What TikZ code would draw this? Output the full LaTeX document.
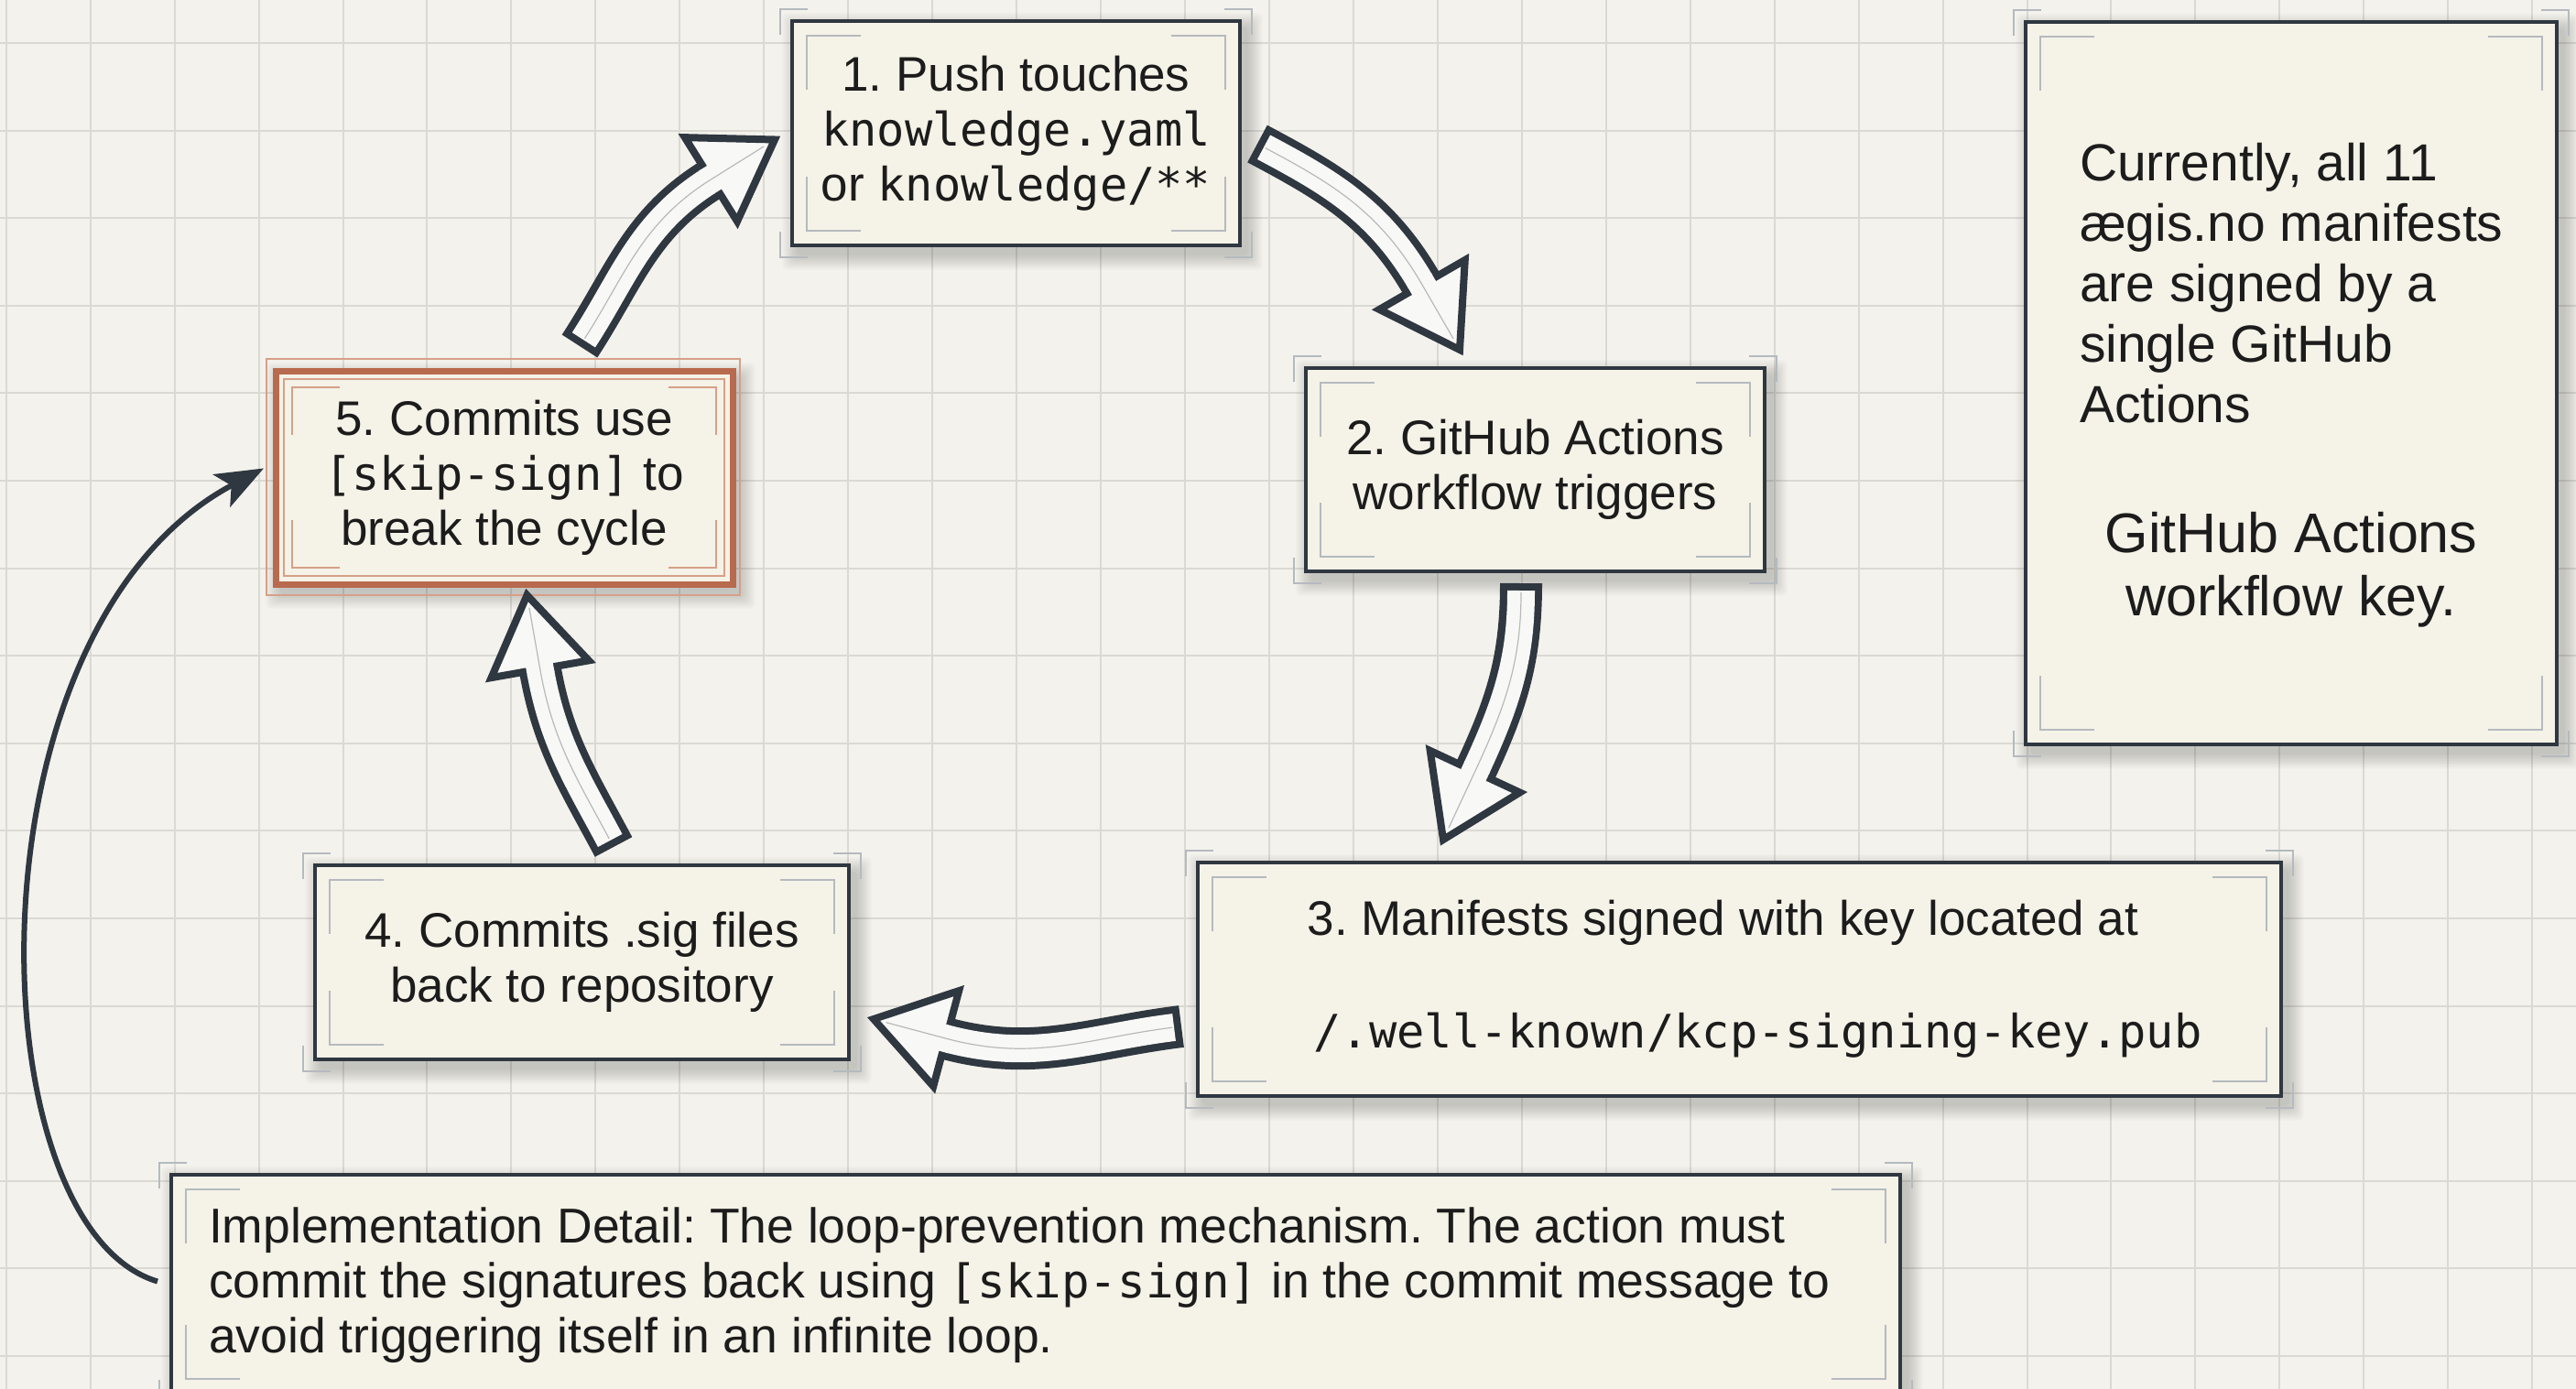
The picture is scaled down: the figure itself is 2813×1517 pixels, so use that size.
\documentclass[tikz,border=0pt]{standalone}
\usepackage{fontspec}
\setmainfont{Liberation Sans}
\newfontfamily\monof[Scale=0.95]{DejaVu Sans Mono}
\usetikzlibrary{calc,arrows.meta}
\pgfdeclarelayer{bg}
\pgfsetlayers{bg,main}
\frenchspacing
\definecolor{bgc}{HTML}{F3F2EC}
\definecolor{gridc}{HTML}{DAD9D3}
\definecolor{boxfill}{HTML}{F5F2E7}
\definecolor{boxdark}{HTML}{2F3740}
\definecolor{brk}{HTML}{B5BABF}
\definecolor{orng}{HTML}{B86A4E}
\definecolor{orngl}{HTML}{D6A088}
\definecolor{arrfill}{HTML}{F8F8F6}
\definecolor{txt}{HTML}{1C1C1C}
\tikzset{
  box/.style={draw=boxdark, line width=3.5pt, fill=boxfill, inner sep=0pt, outer sep=0pt,
    text=txt, align=center, font=\fontsize{53}{60}\selectfont},
  plaintext/.style={inner sep=0pt, outer sep=0pt, text=txt},
}
\newcommand{\boxdeco}[2]{%
  \draw[line width=2.5pt, #2] ($(#1.north west)+(-13,-15)$) -- ++(0,28) -- ++(30,0);
  \draw[line width=2.5pt, #2] ($(#1.north east)+(13,-15)$) -- ++(0,28) -- ++(-30,0);
  \draw[line width=2.5pt, #2] ($(#1.south west)+(-13,15)$) -- ++(0,-28) -- ++(30,0);
  \draw[line width=2.5pt, #2] ($(#1.south east)+(13,15)$) -- ++(0,-28) -- ++(-30,0);
  \draw[line width=2.2pt, #2] ($(#1.north west)+(16,-75)$) -- ++(0,59) -- ++(59,0);
  \draw[line width=2.2pt, #2] ($(#1.north east)+(-16,-75)$) -- ++(0,59) -- ++(-59,0);
  \draw[line width=2.2pt, #2] ($(#1.south west)+(16,75)$) -- ++(0,-59) -- ++(59,0);
  \draw[line width=2.2pt, #2] ($(#1.south east)+(-16,75)$) -- ++(0,-59) -- ++(-59,0);
}
\newcommand{\boxshadow}[1]{%
  \begin{pgfonlayer}{bg}
    \foreach \k in {1,...,8} {
      \fill[black, opacity=0.022, rounded corners=6pt]
        ($(#1.south west)+(7-\k*2.2,-9-\k*2.2)$) rectangle ($(#1.north east)+(7+\k*2.2,-9+\k*2.2)$);
    }
  \end{pgfonlayer}
}
\newcommand{\blockarrow}[4]{%
  \pgfmathsetmacro{\inang}{#4+180}
  \coordinate (ba) at ($(#2)+(\inang:82)$);
  \draw[line width=46pt, boxdark] (#1) to[out=#3,in=\inang] (ba);
  \draw[line width=30pt, arrfill, shorten <=8pt] (#1) to[out=#3,in=\inang] (ba);
  \begin{scope}[shift={(ba)}, rotate=#4]
    \filldraw[fill=arrfill, draw=boxdark, line width=8pt] (0,54) -- (82,0) -- (0,-54) -- cycle;
    \fill[arrfill] (-6,-15) rectangle (20,15);
    \draw[gray!55, line width=1.2pt] (0,0) -- (68,0);
  \end{scope}
  \draw[gray!55, line width=1.2pt, shorten <=10pt] (#1) to[out=#3,in=\inang] (ba);
}
\begin{document}
\begin{tikzpicture}[x=1pt, y=1pt]
\useasboundingbox (0,0) rectangle (2813,-1517);
\begin{pgfonlayer}{bg}
  \fill[bgc] (0,0) rectangle (2813,-1517);
  \foreach \k in {0,...,30} \draw[gridc, line width=2pt] ({6.7+91.95*\k},0) -- ({6.7+91.95*\k},-1517);
  \foreach \k in {0,...,15} \draw[gridc, line width=2pt] (0,{-47-95.6*\k}) -- (2813,{-47-95.6*\k});
\end{pgfonlayer}

% boxes
\node[box, minimum width=489pt, minimum height=245pt] (n1) at (1109.5,-145.5)
  {1. Push touches\\{\monof knowledge.yaml}\\or {\monof knowledge/**}};
\node[box, minimum width=501pt, minimum height=222pt] (n2) at (1676.5,-513)
  {2. GitHub Actions\\workflow triggers};
\node[box, minimum width=1183pt, minimum height=255pt] (n3) at (1899.5,-1069.5)
  {3. Manifests signed with key located at\hspace*{36pt}\\[63pt]\hspace*{40pt}{\monof /.well-known/kcp-signing-key.pub}};
\node[box, minimum width=583pt, minimum height=212pt] (n4) at (635.5,-1051)
  {4. Commits .sig files\\back to repository};
\node[box, draw=orng, line width=7pt, minimum width=499pt, minimum height=233pt] (n5) at (550.5,-521.5)
  {5. Commits use\\{\monof [skip-sign]} to\\break the cycle};
\node[box, minimum width=580pt, minimum height=789pt] (note) at (2502,-418.5) {};
\node[box, minimum width=1888pt, minimum height=239pt] (bot) at (1131,-1402.5) {};

\foreach \n in {n1,n2,n3,n4,n5,note,bot} {\boxshadow{\n}}
\foreach \n in {n1,n2,n3,n4,note,bot} {\boxdeco{\n}{brk}}
\draw[orngl, line width=2.5pt] ($(n5.south west)+(-10,-12)$) rectangle ($(n5.north east)+(8,13)$);
\draw[orngl, line width=2pt] ($(n5.south west)+(9,9)$) rectangle ($(n5.north east)+(-9,-9)$);
\draw[line width=2.2pt, orngl] ($(n5.north west)+(18,-70)$) -- ++(0,52) -- ++(52,0);
\draw[line width=2.2pt, orngl] ($(n5.north east)+(-18,-70)$) -- ++(0,52) -- ++(-52,0);
\draw[line width=2.2pt, orngl] ($(n5.south west)+(18,70)$) -- ++(0,-52) -- ++(52,0);
\draw[line width=2.2pt, orngl] ($(n5.south east)+(-18,70)$) -- ++(0,-52) -- ++(-52,0);

% texts of note and bottom box (base anchor = last line's baseline)
\node[plaintext, anchor=base west, align=left, font=\fontsize{57}{66}\selectfont] (notea)
  at ($(note.north west)+(59,-437)$) {Currently, all 11\\ægis.no manifests\\are signed by a\\single GitHub\\Actions};
\node[plaintext, anchor=base, align=center, font=\fontsize{61}{69}\selectfont] (noteb)
  at ($(note.north)+(0,-648)$) {GitHub Actions\\workflow key.};
\node[plaintext, anchor=base west, align=left, font=\fontsize{53.5}{60}\selectfont] (bottxt)
  at ($(bot.north west)+(41,-194)$) {Implementation Detail: The loop-prevention mechanism. The action must\\commit the signatures back using {\monof [skip-sign]} in the commit message to\\avoid triggering itself in an infinite loop.};

% cycle arrows
\coordinate (a12s) at ($(n1.east)+(19,-11.5)$);
\coordinate (a12t) at ($(n2.north west)+(168,20)$);
\coordinate (a23s) at ($(n2.south)+(-15.5,-13)$);
\coordinate (a23t) at ($(n3.north west)+(268,25)$);
\coordinate (a34s) at ($(n3.west)+(-18,-51.5)$);
\coordinate (a34t) at ($(n4.east)+(27,-62)$);
\coordinate (a45s) at ($(n4.north)+(34.5,20)$);
\coordinate (a45t) at ($(n5.south)+(25,-12)$);
\coordinate (a51s) at ($(n5.north)+(82.5,27)$);
\coordinate (a51t) at ($(n1.west)+(-19,-7)$);
\blockarrow{a12s}{a12t}{-28}{-60}
\blockarrow{a23s}{a23t}{-90}{-115}
\blockarrow{a34s}{a34t}{187}{165}
\blockarrow{a45s}{a45t}{118}{100}
\blockarrow{a51s}{a51t}{57}{32}

% feedback arrow
\coordinate (ls) at ($(bot.west)+(-15,3)$);
\coordinate (le) at ($(n5.west)+(-13,10)$);
\draw[line width=6pt, boxdark, -{Stealth[length=52pt,width=40pt,inset=12pt]}]
  (ls) .. controls +(-200,60) and +(-330,-175) .. (le);
\end{tikzpicture}
\end{document}
